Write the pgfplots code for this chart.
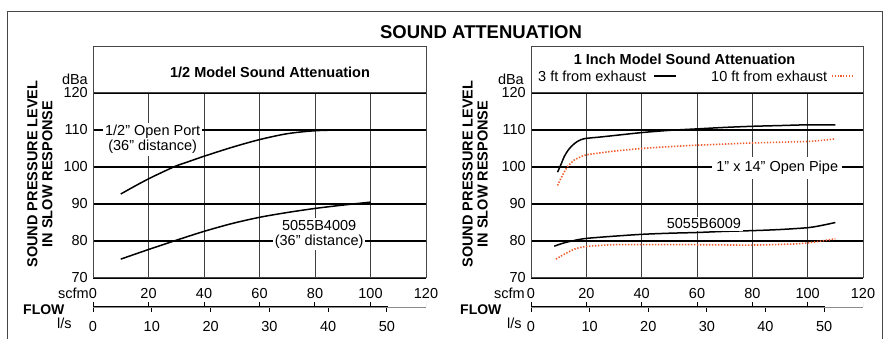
\documentclass[border=0pt]{standalone}
\usepackage{pgfplots}
\pgfplotsset{compat=1.18}
\usepackage{fontspec}
\setmainfont{Liberation Sans}
\definecolor{dotred}{RGB}{240,92,45}
\definecolor{frm}{RGB}{70,70,70}
\newcommand{\fs}{\fontsize{14.5}{15}\selectfont}
\pgfplotsset{
  snd/.style={
    scale only axis, height=185pt,
    xmin=0, xmax=120, ymin=70, ymax=120,
    xtick={0,20,...,120}, ytick={70,80,...,120},
    major tick length=0pt,
    axis line style={frm, line width=1pt},
    xmajorgrids, ymajorgrids,
    x grid style={black!75, line width=1pt},
    y grid style={black, line width=1.2pt},
    tick label style={font=\fs, inner sep=0pt},
    /pgf/number format/assume math mode=true,
    xticklabel style={anchor=north, yshift=-10pt},
    yticklabel style={anchor=east, xshift=-5pt},
  },
  lps/.style={
    scale only axis, height=6pt,
    xmin=0, xmax=56.634, ymin=0, ymax=1,
    hide y axis, axis x line*=bottom,
    x axis line style={black!45, line width=0.8pt, -},
    xtick={0,10,...,50},
    major tick length=5pt, tick align=outside,
    tick style={black, line width=1pt},
    extra x ticks={0,9.439,18.878,28.317,37.755,47.194},
    extra x tick labels={},
    extra x tick style={grid=none, tick align=inside},
    tick label style={font=\fs, inner sep=0pt},
    /pgf/number format/assume math mode=true,
    xticklabel style={anchor=north, yshift=-9pt},
  },
  crv/.style={black, line width=1.5pt, smooth},
  dot/.style={dotred, line width=1.6pt, dash pattern=on 1.4pt off 1.6pt, smooth},
}
\begin{document}
\begin{tikzpicture}[x=1pt,y=1pt]
\useasboundingbox (0,0) rectangle (890,339);
\draw[frm, line width=1pt] (7,-5) rectangle (882,327);
\node[font=\fontsize{18.5}{20}\selectfont\bfseries] at (481,307) {SOUND ATTENUATION};

% ---- left panel
\draw[frm, line width=1pt] (93,246) rectangle (426,292);
\node[font=\fs\bfseries] at (270,267) {1/2 Model Sound Attenuation};
\begin{axis}[snd, at={(93pt,61pt)}, anchor=south west, width=333pt]
\addplot[crv] coordinates {(10,92.7)(15,94.8)(20,96.8)(25,98.6)(30,100.3)(35,101.6)(40,102.9)(50,105.3)(60,107.4)(70,109.0)(80,109.8)(90,110.0)(100,110.0)};
\addplot[crv] coordinates {(10,75.1)(20,77.7)(30,80.2)(40,82.6)(50,84.7)(60,86.4)(70,87.7)(80,88.8)(90,89.7)(100,90.5)};
\node[fill=white, font=\fs, align=center, inner sep=2pt] at (axis cs:21.5,107.5) {1/2” Open Port\\(36” distance)};
\node[fill=white, font=\fs, align=center, inner sep=2pt] at (axis cs:81.5,81.8) {5055B4009\\(36” distance)};
\end{axis}
\begin{axis}[lps, at={(93pt,32pt)}, anchor=south west, width=333pt]
\addplot[draw=none] coordinates {(0,0)(50,0)};
\draw[black, line width=2pt] (axis cs:0,0) -- (axis cs:50.2,0);
\draw[black!45, line width=0.8pt] (axis cs:56.634,0) -- ++(0,5pt);
\end{axis}
\node[font=\fs, anchor=east, inner sep=0pt] at (89,46) {scfm};
\node[font=\fs, anchor=east, inner sep=0pt] at (88,260) {dBa};
\node[font=\fontsize{14}{15}\selectfont\bfseries, anchor=west, inner sep=0pt] at (23,29) {FLOW};
\node[font=\fs, anchor=west, inner sep=0pt] at (57,16) {l/s};
\node[rotate=90, align=center, font=\fs\bfseries] at (40,165) {SOUND PRESSURE LEVEL\\IN SLOW RESPONSE};

% ---- right panel
\draw[frm, line width=1pt] (531,246) rectangle (863,292);
\node[font=\fs\bfseries] at (684.5,280) {1 Inch Model Sound Attenuation};
\node[font=\fs, anchor=west, inner sep=0pt] at (538,263) {3 ft from exhaust};
\draw[black, line width=1.2pt] (654,263) -- (676,263);
\node[font=\fs, anchor=west, inner sep=0pt] at (711,263) {10 ft from exhaust};
\draw[dotred, line width=1.4pt, dash pattern=on 1.2pt off 1.6pt] (832,263) -- (853,263);
\begin{axis}[snd, at={(531pt,61pt)}, anchor=south west, width=332pt]
\addplot[crv] coordinates {(9.6,98.6)(11,101.0)(12,102.8)(13.2,104.3)(14.5,105.5)(16,106.5)(17.5,107.2)(19.6,107.7)(25,108.1)(30,108.5)(40,109.3)(50,109.9)(60,110.3)(70,110.7)(80,111.0)(90,111.2)(100,111.4)(110,111.4)};
\addplot[dot] coordinates {(9.6,95.0)(10.8,96.9)(12,98.6)(13.2,100.1)(15.7,101.9)(19.6,103.2)(25,103.8)(30,104.3)(40,105.0)(50,105.5)(60,105.9)(70,106.2)(80,106.5)(90,106.7)(100,106.9)(105,107.2)(110,107.6)};
\addplot[crv] coordinates {(8.4,78.6)(12,79.5)(16,80.2)(20,80.7)(30,81.3)(40,81.8)(50,82.1)(60,82.3)(70,82.6)(80,82.8)(90,83.1)(100,83.6)(105,84.2)(110,85.0)};
\addplot[dot] coordinates {(9,75.1)(12,76.4)(15.7,77.8)(19.6,78.5)(25,78.8)(30,79.0)(40,79.0)(60,79.0)(80,78.9)(95,79.2)(100,79.5)(105,80.0)(110,80.6)};
\node[fill=white, font=\fs, inner xsep=4pt, minimum height=22pt] at (axis cs:89,99.7) {1” x 14” Open Pipe};
\node[fill=white, font=\fs, inner sep=2pt] at (axis cs:62.5,84.6) {5055B6009};
\end{axis}
\begin{axis}[lps, at={(531pt,32pt)}, anchor=south west, width=332pt]
\addplot[draw=none] coordinates {(0,0)(50,0)};
\draw[black, line width=2pt] (axis cs:0,0) -- (axis cs:50.2,0);
\draw[black!45, line width=0.8pt] (axis cs:56.634,0) -- ++(0,5pt);
\end{axis}
\node[font=\fs, anchor=east, inner sep=0pt] at (525,46) {scfm};
\node[font=\fs, anchor=east, inner sep=0pt] at (524,260) {dBa};
\node[font=\fontsize{14}{15}\selectfont\bfseries, anchor=west, inner sep=0pt] at (460,29) {FLOW};
\node[font=\fs, anchor=west, inner sep=0pt] at (507,16) {l/s};
\node[rotate=90, align=center, font=\fs\bfseries] at (475,165) {SOUND PRESSURE LEVEL\\IN SLOW RESPONSE};
\end{tikzpicture}
\end{document}
